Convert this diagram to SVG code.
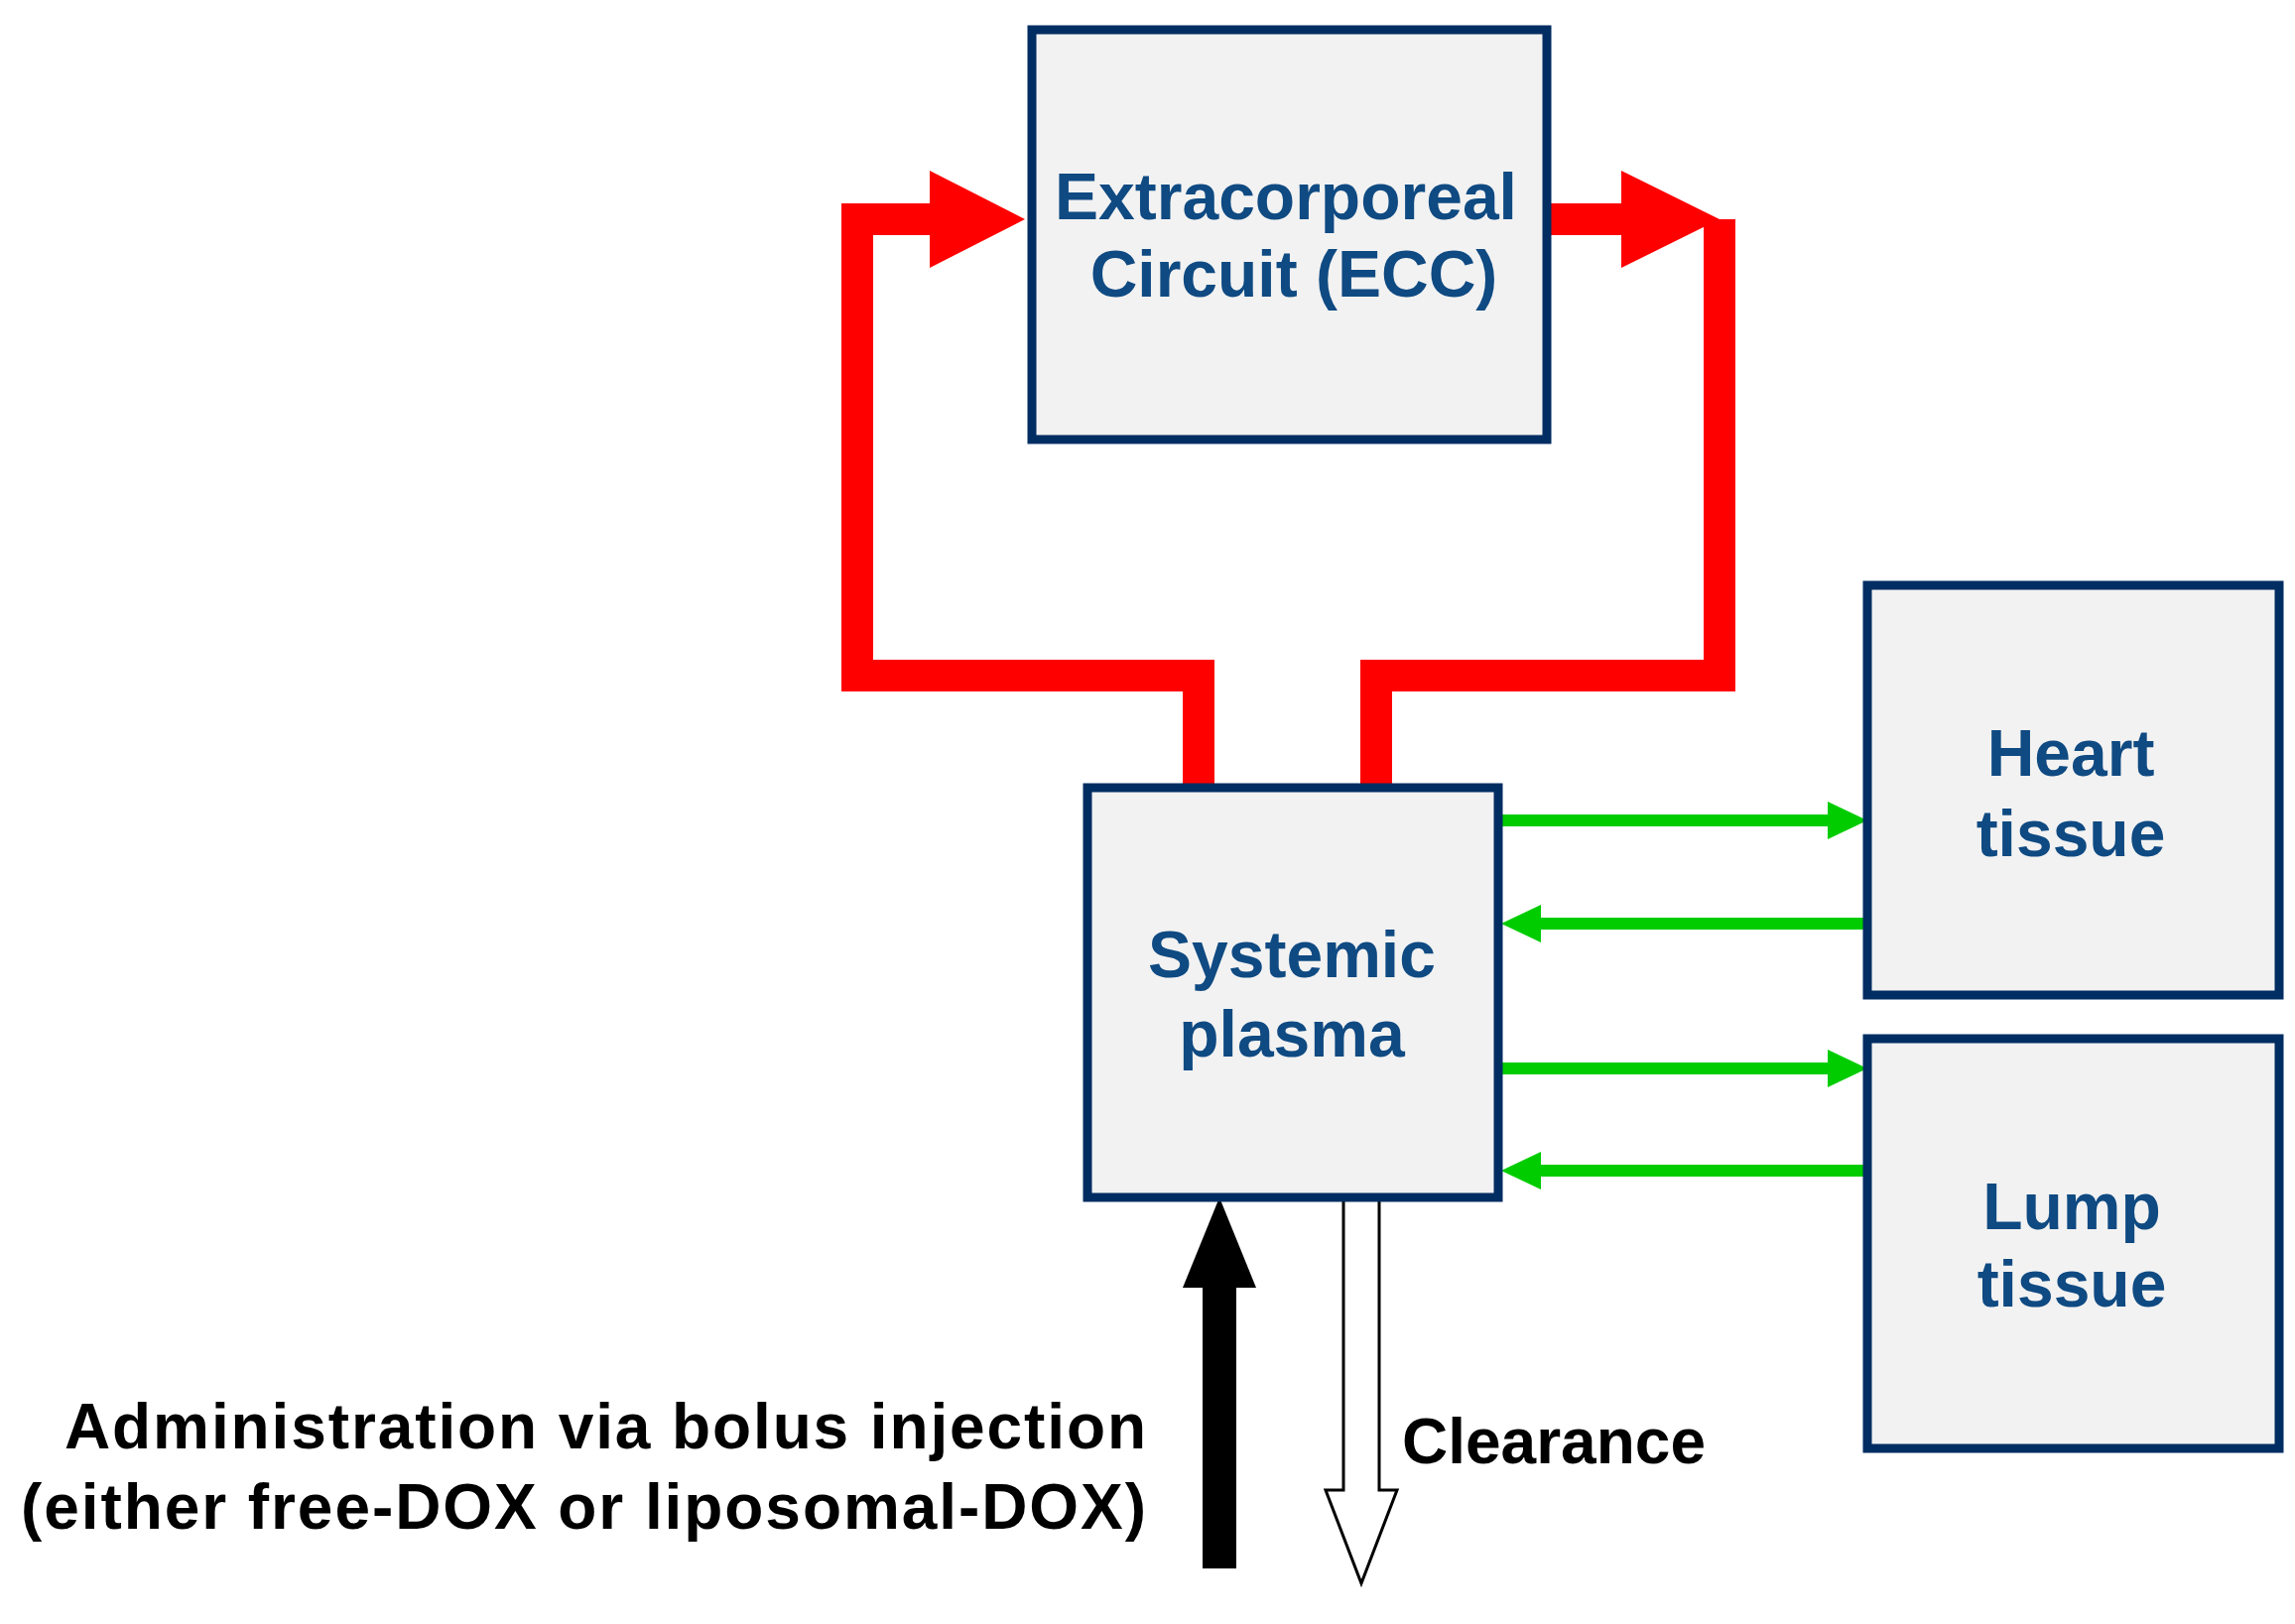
<svg xmlns="http://www.w3.org/2000/svg" width="2313" height="1637" viewBox="0 0 2313 1637">
<style>
.box{fill:#f2f2f2;stroke:#002d62;stroke-width:9}
.lbl{font-family:"Liberation Sans",Arial,sans-serif;font-weight:bold;font-size:66px;fill:#0f4a82;text-anchor:middle}
.blk{font-family:"Liberation Sans",Arial,sans-serif;font-weight:bold;font-size:64px;fill:#000}
.red{fill:none;stroke:#ff0000;stroke-width:32}
.grn{stroke:#00cc00;stroke-width:12;fill:none}
</style>
<rect width="2313" height="1637" fill="#fff"/>
<g id="connectors">
<polyline class="red" points="1208,797 1208,681 864,681 864,221 940,221" stroke-linejoin="miter"/>
<polygon points="937,172 1033,221 937,270" fill="#ff0000"/>
<polyline class="red" points="1559,221 1636,221"/>
<polygon points="1634,172 1733,221 1634,270" fill="#ff0000"/>
<polyline class="red" points="1733,221 1733,681 1387,681 1387,797"/>
<line class="grn" x1="1512" y1="827" x2="1845" y2="827"/>
<polygon points="1842,808 1882,827 1842,846" fill="#00cc00"/>
<line class="grn" x1="1882" y1="931" x2="1550" y2="931"/>
<polygon points="1553,912 1513,931 1553,950" fill="#00cc00"/>
<line class="grn" x1="1512" y1="1077" x2="1845" y2="1077"/>
<polygon points="1842,1058 1882,1077 1842,1096" fill="#00cc00"/>
<line class="grn" x1="1882" y1="1180" x2="1550" y2="1180"/>
<polygon points="1553,1161 1513,1180 1553,1199" fill="#00cc00"/>
<polygon points="1212,1581 1246,1581 1246,1298 1266,1298 1229,1207 1192,1298 1212,1298" fill="#000"/>
<polygon points="1354,1209 1390,1209 1390,1502 1408,1502 1372,1596 1336,1502 1354,1502" fill="#fff" stroke="#000" stroke-width="3"/>
</g>
<g id="ecc">
<rect class="box" x="1040" y="30" width="519" height="413"/>
<text class="lbl" x="1296" y="221">Extracorporeal</text>
<text class="lbl" x="1304" y="299">Circuit (ECC)</text>
</g>
<g id="plasma">
<rect class="box" x="1096" y="794" width="414" height="413"/>
<text class="lbl" x="1302" y="985">Systemic</text>
<text class="lbl" x="1302" y="1065">plasma</text>
</g>
<g id="heart">
<rect class="box" x="1882" y="590" width="415" height="413"/>
<text class="lbl" x="2087" y="782">Heart</text>
<text class="lbl" x="2087" y="863">tissue</text>
</g>
<g id="lump">
<rect class="box" x="1882" y="1047" width="415" height="413"/>
<text class="lbl" x="2088" y="1239">Lump</text>
<text class="lbl" x="2088" y="1317">tissue</text>
</g>
<g id="labels">
<text class="blk" x="1413" y="1475">Clearance</text>
<text class="blk" x="1155" y="1460" text-anchor="end" textLength="1090">Administration via bolus injection</text>
<text class="blk" x="1155" y="1541" text-anchor="end" textLength="1134">(either free-DOX or liposomal-DOX)</text>
</g>
</svg>
